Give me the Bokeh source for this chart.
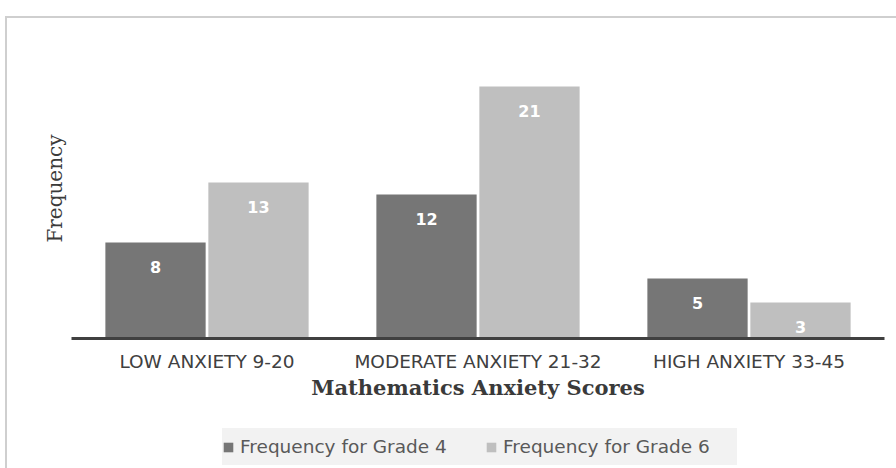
from bokeh.plotting import figure
from bokeh.layouts import column
from bokeh.models import ColumnDataSource, FactorRange, Range1d, Legend, LegendItem, InlineStyleSheet
from bokeh.transform import dodge
from bokeh.core.properties import value
from bokeh.embed import file_html
from bokeh.resources import INLINE

categories = ["LOW ANXIETY 9-20", "MODERATE ANXIETY 21-32", "HIGH ANXIETY 33-45"]
grade4 = [8, 12, 5]
grade6 = [13, 21, 3]
series_names = ["Frequency for Grade 4", "Frequency for Grade 6"]

src = ColumnDataSource(dict(
    cat=categories,
    g4=grade4,
    g6=grade6,
    g4_lbl=[str(v) for v in grade4],
    g6_lbl=[str(v) for v in grade6],
))

c4 = "#767676"
c6 = "#bfbfbf"

p = figure(
    width=896, height=415,
    x_range=FactorRange(*categories, range_padding=0),
    y_range=Range1d(0, 25),
    output_backend="svg", toolbar_location=None,
    min_border_left=71, min_border_right=12, min_border_top=38, min_border_bottom=77,
)
p.outline_line_color = None
p.xgrid.grid_line_color = None
p.ygrid.grid_line_color = None

r4 = p.vbar(x=dodge("cat", -0.19, range=p.x_range), top="g4", width=0.37, source=src,
            fill_color=c4, line_color=None)
r6 = p.vbar(x=dodge("cat", 0.19, range=p.x_range), top="g6", width=0.37, source=src,
            fill_color=c6, line_color=None)

for col, off in (("g4", -0.19), ("g6", 0.19)):
    p.text(x=dodge("cat", off, range=p.x_range), y=col, text=col + "_lbl", source=src,
           text_color="white", text_font=value("DejaVu Sans"), text_font_style="bold",
           text_font_size="16px", text_align="center", text_baseline="middle", y_offset=24)

# x axis
xa = p.xaxis[0]
xa.axis_line_color = "#404040"
xa.axis_line_width = 3
xa.major_tick_line_color = None
xa.minor_tick_line_color = None
xa.major_label_standoff = 6
xa.major_label_text_font = "DejaVu Sans"
xa.major_label_text_font_size = "18.5px"
xa.major_label_text_color = "#404040"
xa.axis_label = "Mathematics Anxiety Scores"
xa.axis_label_text_font = "DejaVu Serif"
xa.axis_label_text_font_style = "bold"
xa.axis_label_text_font_size = "21px"
xa.axis_label_text_color = "#3a3a3a"
xa.axis_label_standoff = 0

# y axis
ya = p.yaxis[0]
ya.ticker = []
ya.axis_line_color = None
ya.major_tick_line_color = None
ya.minor_tick_line_color = None
ya.major_label_text_font_size = "0px"
ya.axis_label = "Frequency"
ya.axis_label_text_font = "DejaVu Serif"
ya.axis_label_text_font_style = "normal"
ya.axis_label_text_font_size = "20px"
ya.axis_label_text_color = "#3a3a3a"
ya.axis_label_standoff = 5

# legend strip (its key swatches come from renderers that fall outside its view)
pl = figure(
    width=896, height=53,
    x_range=FactorRange(*categories, range_padding=0),
    y_range=Range1d(100, 101),
    output_backend="svg", toolbar_location=None,
    x_axis_location=None, y_axis_location=None,
    min_border_left=0, min_border_right=0, min_border_top=0, min_border_bottom=0,
)
pl.outline_line_color = None
pl.xgrid.grid_line_color = None
pl.ygrid.grid_line_color = None
l4 = pl.vbar(x=dodge("cat", -0.19, range=pl.x_range), top="g4", width=0.37, source=src,
             fill_color=c4, line_color=None)
l6 = pl.vbar(x=dodge("cat", 0.19, range=pl.x_range), top="g6", width=0.37, source=src,
             fill_color=c6, line_color=None)

legend = Legend(
    items=[LegendItem(label=series_names[0], renderers=[l4]),
           LegendItem(label=series_names[1], renderers=[l6])],
    location=(151, 3), orientation="horizontal",
    glyph_width=12, glyph_height=12, label_standoff=6, spacing=11,
    label_width=234, label_height=37,
    padding=0, margin=0,
    label_text_font="DejaVu Sans", label_text_font_size="18.5px", label_text_color="#595959",
    border_line_color=None, background_fill_color="#f2f2f2", background_fill_alpha=1,
)
pl.add_layout(legend, "center")

layout = column(p, pl, spacing=0)
layout.stylesheets = [InlineStyleSheet(css="""
:host::before {
  content: ""; position: absolute; left: 5px; top: 16px; right: 0px; bottom: 0px;
  border-left: 2px solid #cfcfcf; border-top: 2px solid #cfcfcf;
  z-index: 50; pointer-events: none;
}
""")]

open("out.html", "w").write(file_html(layout, INLINE))
